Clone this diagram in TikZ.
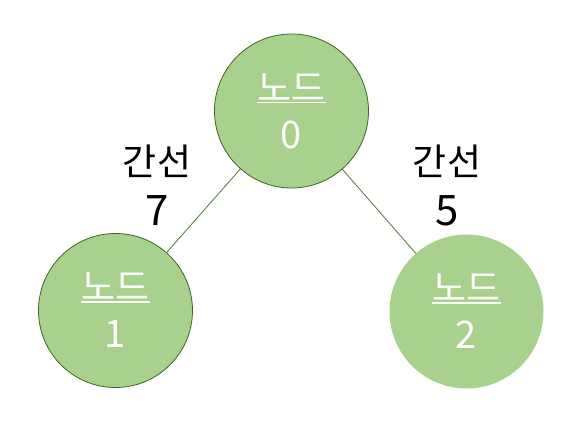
\documentclass[tikz,border=0pt]{standalone}
\usepackage{fontspec}
\setmainfont{Noto Sans CJK KR}
\definecolor{nodefill}{HTML}{A9D18E}
\definecolor{nodeedge}{HTML}{3E6428}
\definecolor{linkcol}{HTML}{4E7A32}
\newcommand\myul[1]{\setbox0\hbox{#1}\rlap{\rule[-2.2pt]{\wd0}{1.6pt}}\box0}
\newcommand\nd[1]{{\fontsize{38}{47}\selectfont #1}}
\newcommand\ed[1]{{\fontsize{42}{50}\selectfont #1}}
\begin{document}
\begin{tikzpicture}[x=1pt,y=1pt,
  gnode/.style={circle,fill=nodefill,minimum size=154pt,inner sep=0pt,
    text=white,align=center,font=\fontsize{37}{47}\selectfont},
  rimmed/.style={draw=nodeedge,line width=0.8pt},
  link/.style={draw=linkcol,line width=0.8pt},
  elabel/.style={align=center,text=black,font=\fontsize{37}{50}\selectfont}]
\useasboundingbox (0,0) rectangle (582,423);
\node[gnode,rimmed] (n0) at (291.5,312) {\myul{노드}\\\nd{0}};
\node[gnode,rimmed] (n1) at (115.5,112.5) {\myul{노드}\\\nd{1}};
\node[gnode] (n2) at (466.5,111.5) {\myul{노드}\\\nd{2}};
\draw[link] (n0) -- (n1);
\draw[link] (n0) -- (n2);
\node[elabel] (e1) at (157,238) {간선\\\ed{7}};
\node[elabel] (e2) at (447,238) {간선\\\ed{5}};
\end{tikzpicture}
\end{document}
